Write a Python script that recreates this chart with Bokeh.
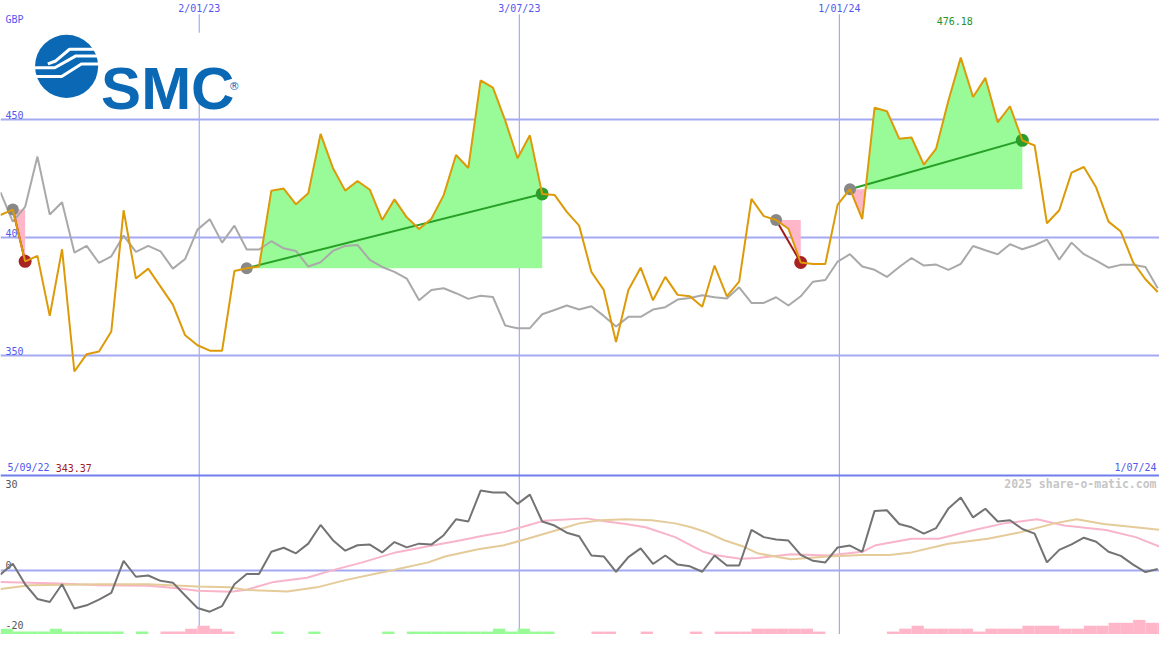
import numpy as np
import pandas as pd
from bokeh.plotting import figure
from bokeh.models import Range1d
from bokeh.core.properties import value
from bokeh.embed import file_html
from bokeh.resources import INLINE

# ---------------- data ----------------
start_date = "2022-09-11"
end_date = "2024-07-01"

price = [
    409.6, 411.9, 390.0, 392.3, 366.9, 395.1, 343.37, 350.7, 351.8, 360.3,
    411.6, 382.7, 386.9, 379.3, 371.7, 358.7, 354.5, 352.2, 352.2, 385.9,
    387.1, 387.8, 419.9, 420.8, 414.1, 418.8, 443.9, 429.5, 419.9, 424.0,
    420.3, 407.5, 416.2, 408.6, 403.7, 408.0, 418.0, 435.0, 429.5, 466.6,
    463.5, 449.5, 433.6, 443.3, 418.5, 418.1, 410.9, 405.1, 385.5, 377.9,
    355.9, 377.9, 387.3, 373.5, 383.4, 375.8, 375.2, 370.8, 388.2, 375.2,
    381.4, 416.4, 409.1, 407.5, 403.8, 389.5, 388.9, 388.9, 414.0, 420.5,
    407.9, 455.0, 453.5, 441.9, 442.4, 430.9, 437.7, 458.0, 476.18, 459.5,
    467.6, 448.8, 455.6, 441.2, 439.0, 406.1, 411.6, 427.5, 429.9, 421.2,
    406.8, 402.6, 389.6, 382.4, 377.0,
]

index_rel = [
    419.2, 406.8, 413.0, 434.3, 409.8, 415.0, 393.7, 396.5, 389.3, 392.1,
    400.9, 394.0, 396.5, 394.2, 386.9, 391.0, 403.4, 407.8, 397.9, 405.1,
    395.0, 395.0, 398.5, 395.5, 394.4, 387.8, 389.6, 394.4, 396.5, 396.9,
    390.6, 387.6, 385.5, 382.7, 373.5, 377.9, 378.6, 376.5, 374.1, 375.4,
    374.9, 362.8, 361.7, 361.7, 367.6, 369.4, 371.3, 369.6, 371.0, 366.9,
    362.4, 366.5, 366.5, 369.6, 370.6, 373.8, 374.5, 375.6, 374.8, 374.3,
    379.0, 372.4, 372.4, 374.8, 371.3, 375.2, 381.4, 382.1, 389.9, 393.0,
    387.8, 386.4, 383.4, 387.6, 391.4, 388.2, 388.6, 386.4, 388.9, 396.5,
    394.7, 393.0, 397.2, 395.1, 396.8, 399.2, 390.7, 397.9, 393.0, 390.3,
    387.3, 388.5, 388.5, 387.6, 378.6,
]

momentum = [
    -1.35, 2.1, -4.5, -9.2, -10.2, -4.5, -12.3, -11.25, -9.4, -7.3,
    3.0, -2.1, -1.7, -3.4, -4.0, -8.1, -12.1, -13.3, -11.5, -4.5,
    -1.2, -1.2, 5.9, 7.2, 5.4, 8.5, 14.5, 9.6, 6.25, 8.0,
    8.2, 5.7, 9.0, 7.3, 8.5, 8.2, 11.2, 16.3, 15.6, 25.5,
    24.9, 24.9, 21.25, 24.2, 15.6, 14.3, 12.0, 10.9, 4.7, 4.4,
    -0.5, 4.2, 7.0, 2.0, 4.7, 1.8, 1.25, -0.5, 4.7, 1.5,
    1.5, 12.9, 10.6, 9.8, 9.5, 4.9, 3.0, 2.5, 7.3, 7.9,
    5.9, 19.0, 19.2, 14.8, 13.75, 11.7, 13.5, 19.8, 23.3, 16.9,
    19.7, 15.6, 16.0, 13.2, 11.7, 2.5, 6.5, 8.3, 10.4, 9.1,
    5.9, 4.6, 1.8, -0.6, 0.4,
]

pink_weeks = [0, 4.8, 8.0, 12.0, 14.4, 16.0, 18.7, 20.0, 22.2, 24.9,
              26.7, 29.4, 32.1, 34.75, 37.4, 39.3, 40.9, 42.8, 44.1, 47.6,
              49.2, 50.8, 52.4, 54.8, 57.1, 58.0, 60.1, 61.5, 64.2, 67.2,
              70.0, 71.1, 74.0, 76.2, 79.1, 81.5, 84.2, 86.4, 89.8, 92.2, 94.2]
pink_vals = [-3.75, -4.3, -4.8, -5.0, -5.8, -6.6, -6.9, -6.25, -3.75, -2.4,
             -0.3, 2.5, 5.7, 7.7, 9.6, 11.1, 12.2, 14.3, 15.8, 16.6,
             15.6, 14.8, 13.75, 10.6, 5.9, 4.9, 3.65, 3.9, 5.1, 4.7,
             5.9, 8.0, 10.1, 10.1, 12.9, 15.0, 16.3, 14.3, 12.9, 10.6, 7.5]

tan_weeks = [0, 2.4, 8.0, 12.0, 16.0, 18.7, 20.0, 23.3, 25.7, 28.1,
             32.1, 34.75, 36.1, 38.8, 40.9, 42.8, 45.5, 47.0, 48.7, 50.8,
             52.9, 54.8, 56.1, 57.5, 58.8, 60.4, 61.5, 64.2, 67.2, 70.0,
             72.2, 74.0, 77.0, 80.2, 82.9, 85.6, 87.4, 89.6, 92.2, 94.2]
tan_vals = [-6.0, -4.8, -4.5, -4.5, -5.2, -5.5, -6.35, -6.8, -5.5, -3.1,
            0.2, 2.5, 4.4, 6.7, 8.0, 10.1, 13.2, 15.0, 16.0, 16.3,
            16.0, 15.0, 13.75, 11.9, 9.6, 7.5, 5.4, 3.5, 4.4, 4.9,
            4.9, 5.7, 8.5, 10.1, 12.2, 15.0, 16.3, 14.8, 13.75, 12.9]

signal_bars = [
    2, 1, 1, 1, 2, 1, 1, 1, 1, 1,
    0, 1, 0, -1, -1, -2, -3, -2, -1, 0,
    0, 0, 1, 0, 0, 1, 0, 0, 0, 0,
    0, 1, 0, 1, 1, 1, 1, 1, 1, 1,
    2, 1, 2, 1, 1, 0, 0, 0, -1, -1,
    0, 0, -1, 0, 0, 0, -1, 0, -1, -1,
    -1, -2, -2, -2, -2, -2, -1, 0, 0, 0,
    0, 0, -1, -2, -3, -2, -2, -2, -2, -1,
    -2, -2, -2, -3, -3, -3, -2, -2, -3, -3,
    -4, -4, -5, -4, -4,
]

sig_start = [1, 20, 63, 69]
sig_end = [2, 44, 65, 83]

grid_dates = ["2023-01-02", "2023-07-03", "2024-01-01"]
grid_labels = ["2/01/23", "3/07/23", "1/01/24"]
price_levels = [450, 400, 350]
osc_levels = [30, 0, -20]
first_date_label = "5/09/22"
last_date_label = "1/07/24"
currency = "GBP"
company = "SMC"
credit = "2025 share-o-matic.com"

# ---------------- styling ----------------
FONT = "DejaVu Sans Mono"
GRID = "#a3aaf2"
SEP = "#6f7eea"
LBL = "#5258ee"
ORANGE = "#dd9a08"
GRAYLINE = "#a9a9a9"
DARK = "#737373"
PINKL = "#f8b4c8"
TANL = "#e4cb99"
GFILL = "#98fb98"
PFILL = "#ffb6c8"
GLINE = "#26a026"
RLINE = "#9e1c1c"
LOGO = "#0a68b4"

W, H = 1159, 634
DAY = 86400000.0
d0 = pd.Timestamp(start_date).value / 1e6
d_end = pd.Timestamp(end_date).value / 1e6
xs = np.array([d0 + 7 * DAY * i for i in range(len(price))])
pr = np.array(price)

p = figure(width=W, height=H, x_axis_type="datetime",
           x_axis_location=None, y_axis_location=None,
           x_range=Range1d(d0, d_end), y_range=Range1d(232.1, 500.35),
           output_backend="svg", toolbar_location=None, min_border=0,
           outline_line_color=None, background_fill_color="#ffffff",
           border_fill_color="#ffffff")
p.grid.visible = False
p.extra_y_ranges = {"osc": Range1d(-20.6, 182.5), "bar": Range1d(0, 650 / 3.0),
                    "py": Range1d(650, 0)}
p.extra_x_ranges = {"px": Range1d(0, 1175)}


def txt(x, y, t, color, xr="default", yr="default", align="left",
        baseline="middle", size="10px", style="normal", xo=0, yo=0, font=FONT):
    p.text(x=x, y=y, text=t, x_range_name=xr, y_range_name=yr,
           text_color=color, text_font=value(font), text_font_size=size,
           text_align=align, text_baseline=baseline, text_font_style=style,
           x_offset=xo, y_offset=yo)


# grid lines
gx = [pd.Timestamp(d).value / 1e6 for d in grid_dates]
p.segment(x0=gx, x1=gx, y0=[14] * 3, y1=[650] * 3, y_range_name="py",
          line_color=GRID, line_width=1.2)
p.hspan(y=price_levels, line_color=GRID, line_width=2)
p.hspan(y=[0], y_range_name="osc", line_color=GRID, line_width=2)
p.hspan(y=[487], y_range_name="py", line_color=SEP, line_width=2)

# axis-like labels (under data)
txt([5] * 3, price_levels, [str(v) for v in price_levels], LBL, xr="px",
    baseline="bottom", yo=-1)
txt([5], [19], [currency], LBL, xr="px", yr="py")
txt([5], [osc_levels[0]], [str(osc_levels[0])], "#555555", xr="px", yr="osc",
    baseline="top", yo=3)
txt([5], [osc_levels[1]], [str(osc_levels[1])], "#555555", xr="px", yr="osc",
    baseline="bottom", yo=-1)
txt([5], [osc_levels[2]], [str(osc_levels[2])], "#555555", xr="px", yr="osc",
    baseline="bottom", yo=-4)

# signal fills
for s, e in zip(sig_start, sig_end):
    base = price[s]
    fx, fy = [xs[s]], [price[s]]
    for i in range(s, e):
        a, b = price[i], price[i + 1]
        if (a - base) * (b - base) < 0:
            t = (base - a) / (b - a)
            fx.append(xs[i] + t * (xs[i + 1] - xs[i]))
            fy.append(base)
        fx.append(xs[i + 1])
        fy.append(b)
    fx, fy = np.array(fx), np.array(fy)
    bb = np.full_like(fy, base)
    if (fy > base).any():
        p.varea(x=fx, y1=bb, y2=np.maximum(fy, base), fill_color=GFILL)
    if (fy < base).any():
        p.varea(x=fx, y1=np.minimum(fy, base), y2=bb, fill_color=PFILL)

# bottom signal bars
sb = np.array(signal_bars)
nz = sb != 0
p.vbar(x=(xs + 3.5 * DAY)[nz], width=7 * DAY, top=np.abs(sb)[nz], bottom=0,
       y_range_name="bar", line_color=None,
       fill_color=[GFILL if v > 0 else PFILL for v in sb[nz]])

# comparison line
p.line(xs, index_rel, line_color=GRAYLINE, line_width=2)

# lower oscillator lines
p.line(d0 + np.array(pink_weeks) * 7 * DAY, pink_vals, y_range_name="osc",
       line_color=PINKL, line_width=2)
p.line(d0 + np.array(tan_weeks) * 7 * DAY, tan_vals, y_range_name="osc",
       line_color=TANL, line_width=2)
p.line(xs, momentum, y_range_name="osc", line_color=DARK, line_width=2)

# trend lines and dots
for s, e in zip(sig_start, sig_end):
    up = price[e] > price[s]
    p.line([xs[s], xs[e]], [price[s], price[e]],
           line_color=GLINE if up else RLINE, line_width=2)
    p.scatter([xs[s]], [price[s]], size=12, fill_color="#888888", line_color=None)
    p.scatter([xs[e]], [price[e]], size=13,
              fill_color="#2a9d2a" if up else "#a82222", line_color=None)

# price line
p.line(xs, price, line_color=ORANGE, line_width=2)

# logo
p.quad(left=[33], right=[240], top=[33], bottom=[99], x_range_name="px",
       y_range_name="py", fill_color="white", line_color=None)
p.circle(x=[67], y=[67.5], radius=32, x_range_name="px", y_range_name="py",
         fill_color=LOGO, line_color=None)
p.multi_line(xs=[[48, 56, 70, 100], [34, 55, 76, 100], [34, 62, 82, 100]],
             ys=[[65, 62, 50, 50], [69, 69, 57, 57], [78, 78, 65, 65]],
             x_range_name="px", y_range_name="py", line_color="white",
             line_width=3)
txt([102], [90], [company], LOGO, xr="px", yr="py", baseline="alphabetic",
    size="60px", style="bold", font="Liberation Sans")
txt([237], [88], ["\u00ae"], LOGO, xr="px", yr="py", align="center", size="11px",
    font="DejaVu Sans")

# date labels and extremes
txt(gx, [8] * 3, grid_labels, LBL, yr="py", align="center")
imax = int(np.argmax(pr))
imin = int(np.argmin(pr))
txt([xs[imax]], [21], ["%.2f" % pr[imax]], "#22922a", yr="py", align="center",
    xo=-6)
txt([7], [479], [first_date_label], LBL, xr="px", yr="py")
txt([56], [479], ["%.2f" % pr[imin]], "#a01c1c", xr="px", yr="py")
txt([1172], [479], [last_date_label], LBL, xr="px", yr="py", align="right")
txt([1172], [496], [credit], "#c6c6c6", xr="px", yr="py", align="right",
    size="11.5px", style="bold")

open("out.html", "w").write(file_html(p, INLINE))
